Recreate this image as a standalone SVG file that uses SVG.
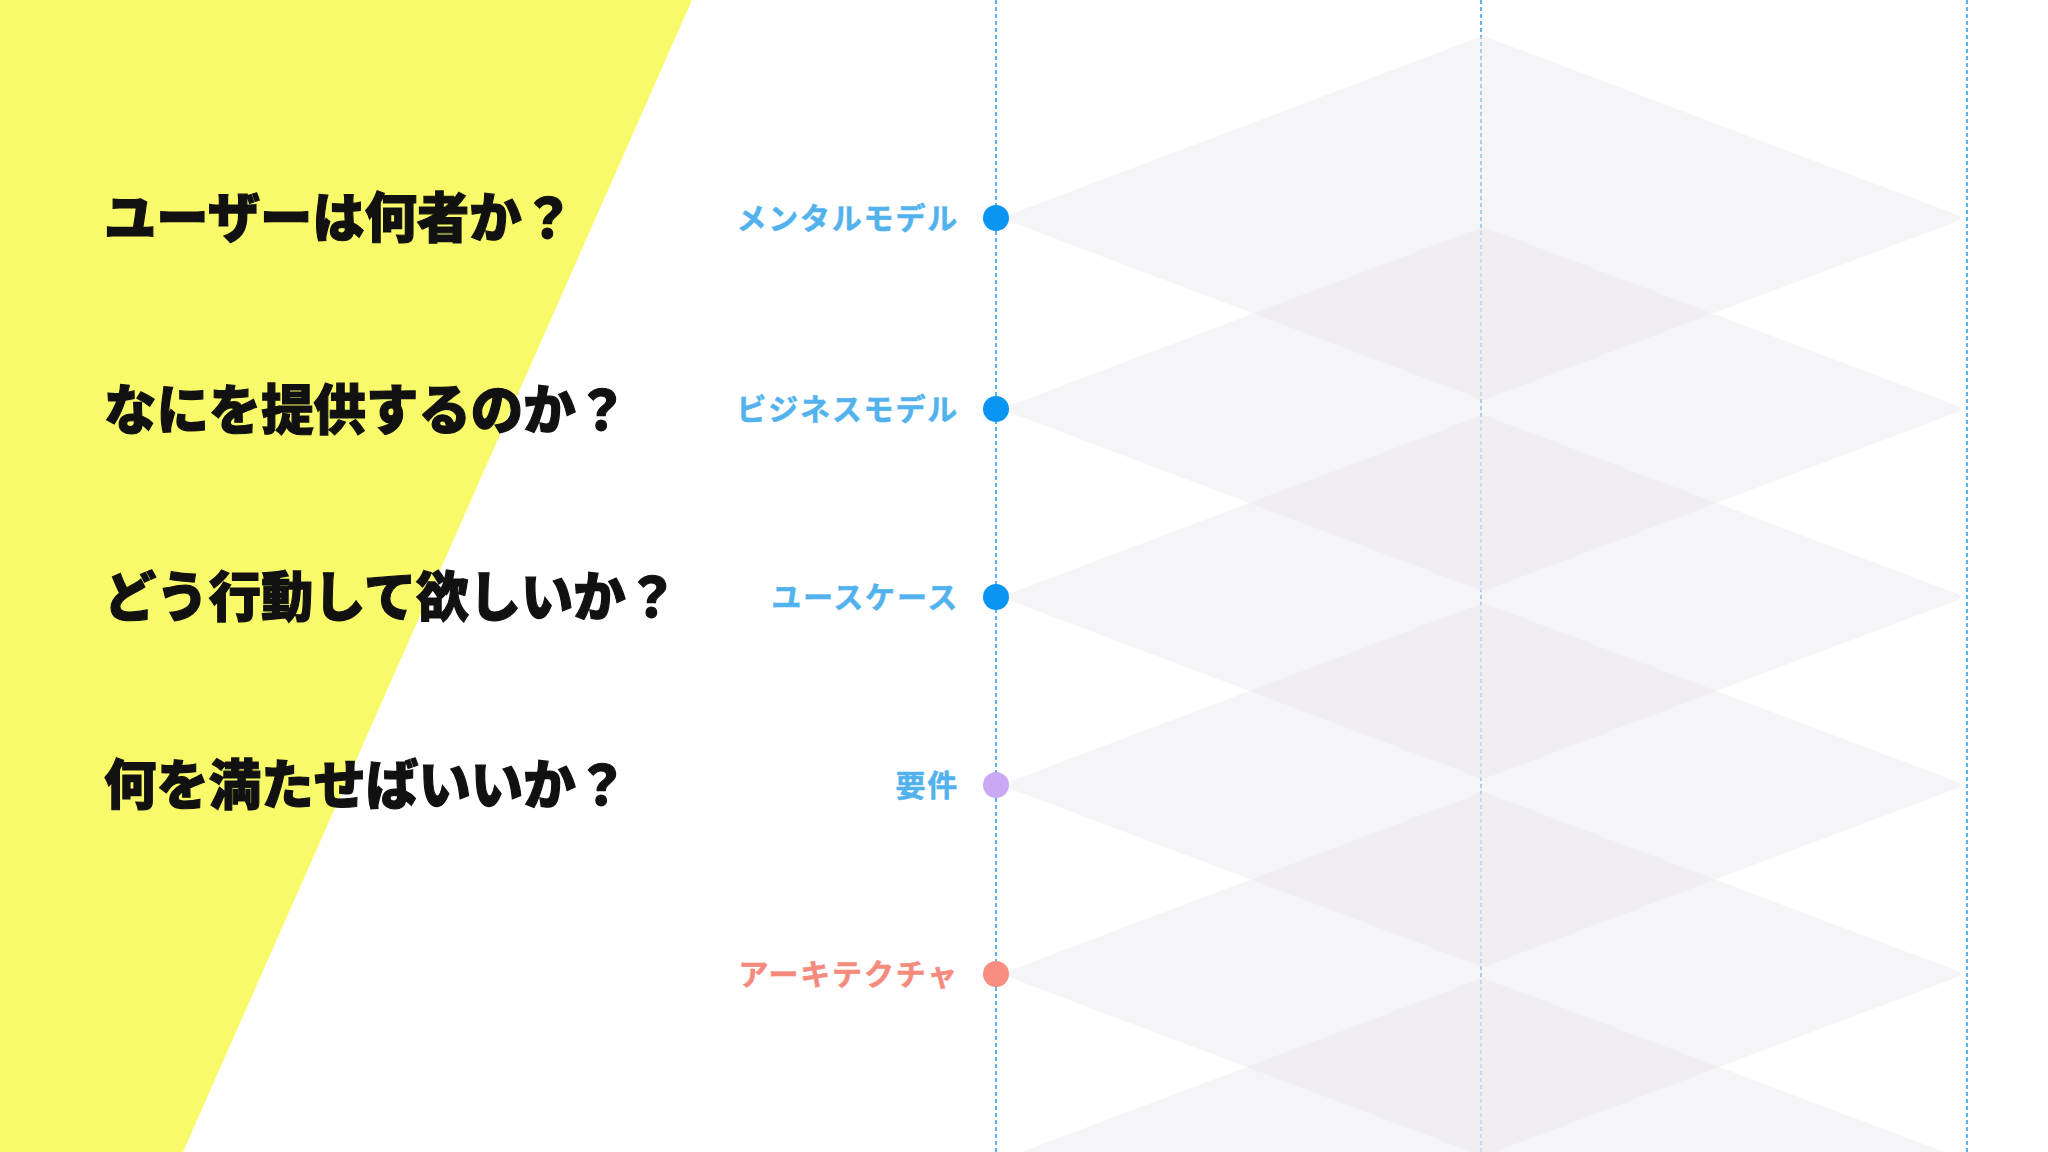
<svg xmlns="http://www.w3.org/2000/svg" width="2048" height="1152" viewBox="0 0 2048 1152">
  <style>
    .q { font-family: "Noto Sans CJK JP", "Noto Sans", sans-serif; font-weight: 900; font-size: 54px; fill: #111111; stroke: #111111; stroke-width: 1.2px; }
    .lbl { font-family: "Noto Sans CJK JP", "Noto Sans", sans-serif; font-weight: 700; font-size: 30px; letter-spacing: 1.8px; text-anchor: end; stroke-width: 0.5px; }
    .blue { fill: #52B2EE; stroke: #52B2EE; }
    .salmon { fill: #F58B7D; stroke: #F58B7D; }
    .dash { stroke: #5AB4EC; stroke-width: 2; stroke-dasharray: 4 3; fill: none; }
    .dia { fill: #ECEAF0; stroke: #ECEAF0; stroke-width: 6; stroke-linejoin: round; opacity: 0.5; }
  </style>
  <defs>
    <polygon id="diamond" points="0,-179 474,0 0,179 -474,0"/>
  </defs>
  <rect x="0" y="0" width="2048" height="1152" fill="#FFFFFF"/>
  <polygon id="yellow-band" points="0,0 692,0 183,1152 0,1152" fill="#F9FA6A"/>

  <g id="connectors">
    <line class="dash" x1="996" y1="0" x2="996" y2="1152"/>
    <line class="dash" x1="1481" y1="0" x2="1481" y2="1152"/>
    <line class="dash" x1="1967" y1="0" x2="1967" y2="1152"/>
  </g>

  <g id="diamonds">
    <use href="#diamond" class="dia" x="1483" y="218"/>
    <use href="#diamond" class="dia" x="1483" y="409"/>
    <use href="#diamond" class="dia" x="1483" y="597"/>
    <use href="#diamond" class="dia" x="1483" y="785"/>
    <use href="#diamond" class="dia" x="1483" y="974"/>
    <use href="#diamond" class="dia" x="1483" y="1160"/>
  </g>

  <g id="q1"><text class="q" x="104" y="238" textLength="470" lengthAdjust="spacingAndGlyphs">ユーザーは何者か？</text></g>
  <g id="q2"><text class="q" x="104" y="430" textLength="524" lengthAdjust="spacingAndGlyphs">なにを提供するのか？</text></g>
  <g id="q3"><text class="q" x="104" y="617" textLength="574" lengthAdjust="spacingAndGlyphs">どう行動して欲しいか？</text></g>
  <g id="q4"><text class="q" x="104" y="805" textLength="524" lengthAdjust="spacingAndGlyphs">何を満たせばいいか？</text></g>

  <g id="node-mental">
    <text class="lbl blue" x="959" y="229">メンタルモデル</text>
    <circle cx="996" cy="218" r="13" fill="#0A95F3"/>
  </g>
  <g id="node-business">
    <text class="lbl blue" x="959" y="420">ビジネスモデル</text>
    <circle cx="996" cy="409" r="13" fill="#0A95F3"/>
  </g>
  <g id="node-usecase">
    <text class="lbl blue" x="959" y="608">ユースケース</text>
    <circle cx="996" cy="597" r="13" fill="#0A95F3"/>
  </g>
  <g id="node-requirements">
    <text class="lbl blue" x="959" y="796">要件</text>
    <circle cx="996" cy="785" r="13" fill="#C9A8F4"/>
  </g>
  <g id="node-architecture">
    <text class="lbl salmon" x="959" y="985">アーキテクチャ</text>
    <circle cx="996" cy="974" r="13" fill="#F88D80"/>
  </g>
</svg>
